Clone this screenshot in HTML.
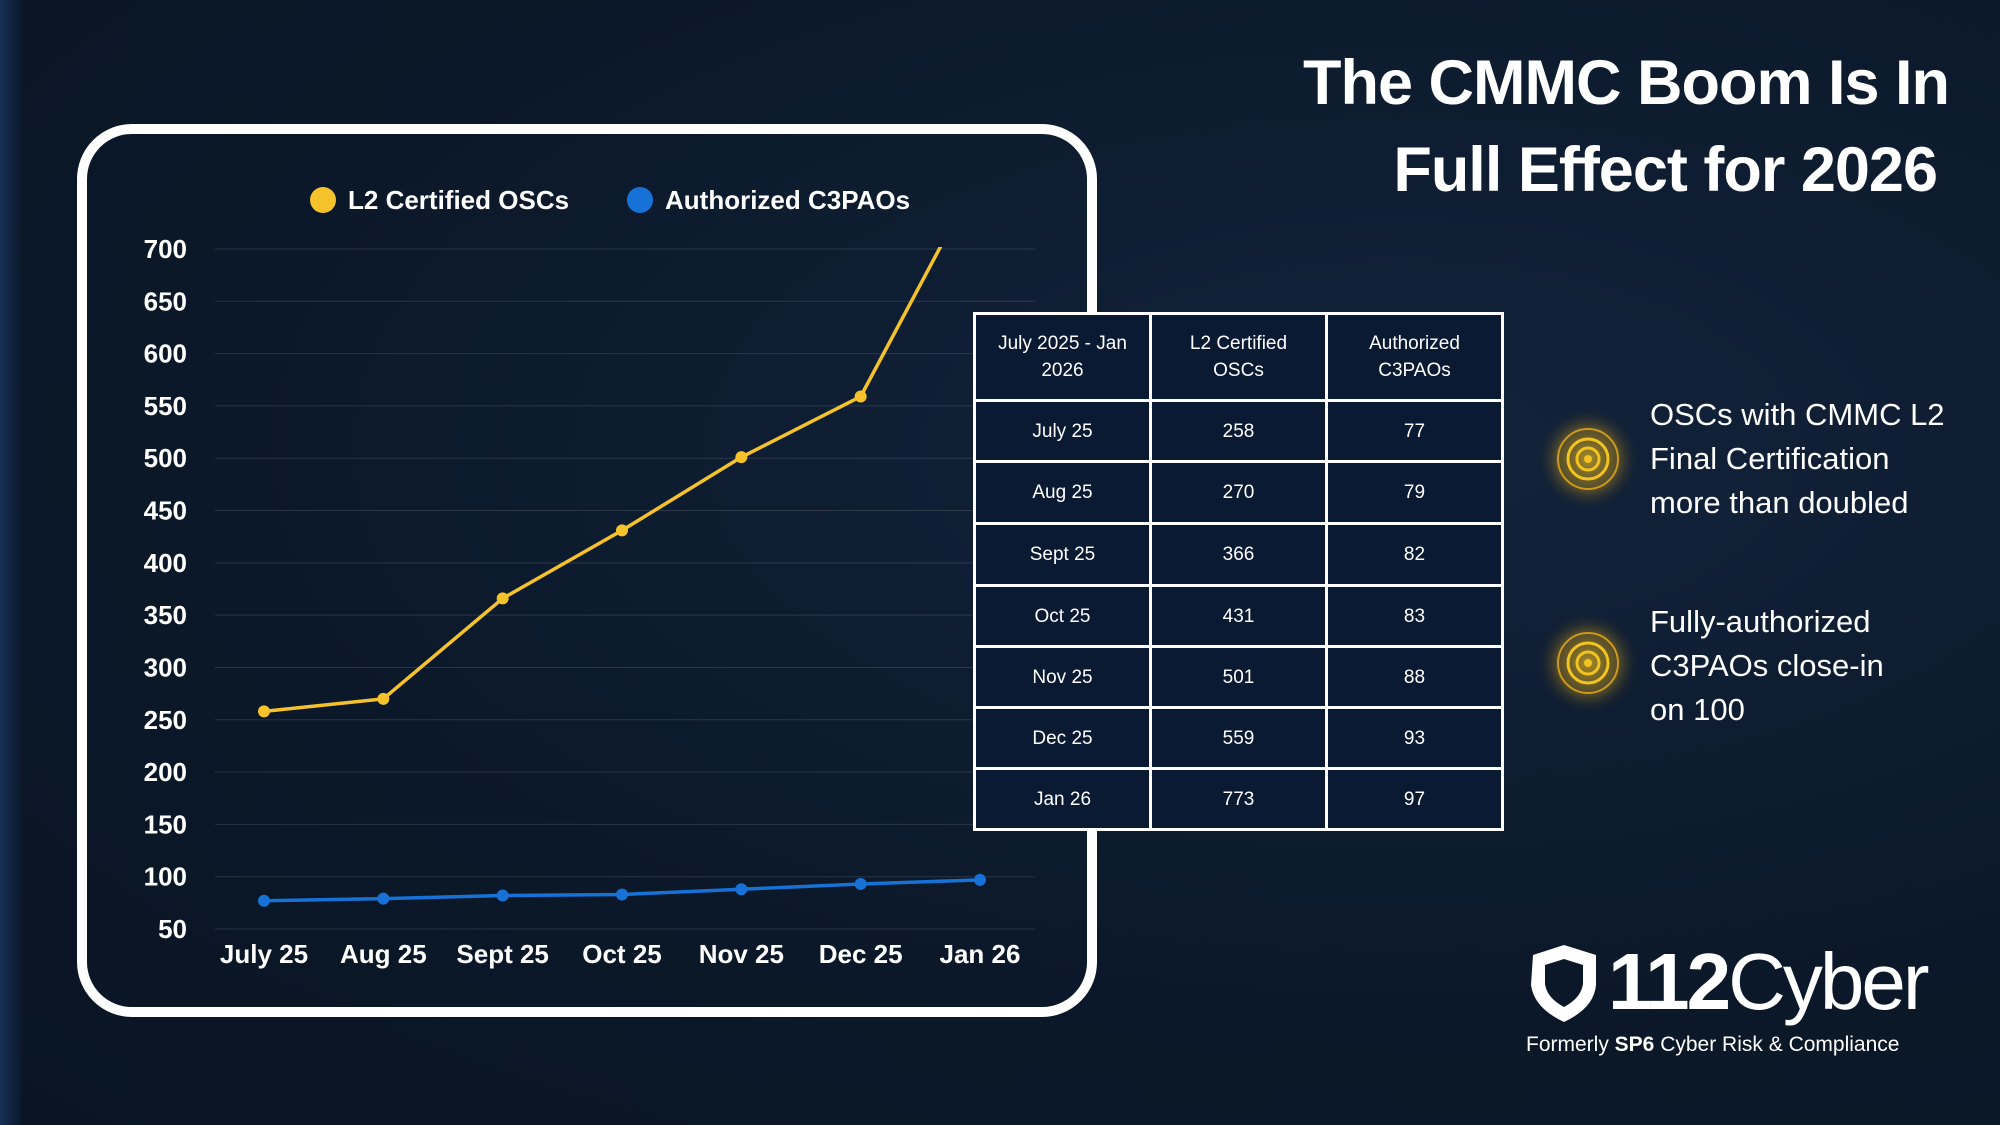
<!DOCTYPE html>
<html><head><meta charset="utf-8"><style>
html,body{margin:0;padding:0;}
body{width:2000px;height:1125px;overflow:hidden;background:#0b1829;font-family:"Liberation Sans",sans-serif;color:#fff;position:relative;}
.bg{position:absolute;inset:0;background:radial-gradient(ellipse at 70% 40%,#12233b 0%,#0b1829 60%,#091524 100%);}
.stripe{position:absolute;left:0;top:0;width:22px;height:1125px;background:linear-gradient(90deg,#163157,#0b1829);}
.title{position:absolute;right:51px;top:40px;text-align:right;font-weight:bold;font-size:63px;line-height:87px;letter-spacing:-1px;}
table{position:absolute;left:973px;top:312px;border-collapse:collapse;background:#0a1a33;}
td{border:3px solid #fff;width:173px;text-align:center;font-size:19px;color:#fff;padding:0;line-height:27px;}
.bul{position:absolute;left:1650px;font-size:31px;line-height:44px;color:#fff;}
.logo{position:absolute;left:1608px;top:936px;font-size:80px;font-weight:bold;letter-spacing:-3px;}
.logo span{font-weight:normal;}
.former{position:absolute;left:1526px;top:1033px;font-size:21px;}
</style></head><body>
<div class="bg"></div>
<div class="stripe"></div>
<div class="title">The CMMC Boom Is In<br><span style="margin-right:12px">Full Effect for 2026</span></div>

<svg id="chart" width="2000" height="1125" style="position:absolute;left:0;top:0">
<rect x="82" y="129" width="1010" height="883" rx="50" fill="none" stroke="#fff" stroke-width="10"/>
<defs><clipPath id="clip"><rect x="180" y="247" width="880" height="720"/></clipPath></defs>
<g id="grid"></g><g id="ylab"></g><g id="xlab"></g><g id="lines" clip-path="url(#clip)"></g><g id="legend"></g>
</svg>

<table>
<tr style="height:87px"><td>July 2025 - Jan<br>2026</td><td>L2 Certified<br>OSCs</td><td>Authorized<br>C3PAOs</td></tr>
<tr style="height:61px"><td>July 25</td><td>258</td><td>77</td></tr>
<tr style="height:62px"><td>Aug 25</td><td>270</td><td>79</td></tr>
<tr style="height:62px"><td>Sept 25</td><td>366</td><td>82</td></tr>
<tr style="height:61px"><td>Oct 25</td><td>431</td><td>83</td></tr>
<tr style="height:61px"><td>Nov 25</td><td>501</td><td>88</td></tr>
<tr style="height:61px"><td>Dec 25</td><td>559</td><td>93</td></tr>
<tr style="height:61px"><td>Jan 26</td><td>773</td><td>97</td></tr>
</table>

<svg width="2000" height="1125" style="position:absolute;left:0;top:0">
<defs><radialGradient id="glow"><stop offset="0" stop-color="#e8b920" stop-opacity="0.7"/><stop offset="0.6" stop-color="#b58a1a" stop-opacity="0.4"/><stop offset="1" stop-color="#0b1829" stop-opacity="0"/></radialGradient></defs>
<g><circle cx="1588" cy="459" r="52" fill="url(#glow)"/><circle cx="1588" cy="459" r="30" fill="none" stroke="#c99a1e" stroke-width="2"/><circle cx="1588" cy="459" r="20" fill="none" stroke="#f2c420" stroke-width="3"/><circle cx="1588" cy="459" r="11" fill="none" stroke="#f2c420" stroke-width="3"/><circle cx="1588" cy="459" r="4" fill="#f2c420"/></g>
<g><circle cx="1588" cy="663" r="52" fill="url(#glow)"/><circle cx="1588" cy="663" r="30" fill="none" stroke="#c99a1e" stroke-width="2"/><circle cx="1588" cy="663" r="20" fill="none" stroke="#f2c420" stroke-width="3"/><circle cx="1588" cy="663" r="11" fill="none" stroke="#f2c420" stroke-width="3"/><circle cx="1588" cy="663" r="4" fill="#f2c420"/></g>
<path d="M1533 955 L1564 945 L1596 955 L1596 985 Q1594 1008 1564 1022 Q1534 1008 1531 985 Z" fill="#fff"/>
<path d="M1545 965 L1564 959 L1583 965 L1583 984 Q1581 998 1564 1007 Q1547 998 1545 984 Z" fill="#0b1829"/>
</svg>
<div class="bul" style="top:393px">OSCs with CMMC L2<br>Final Certification<br>more than doubled</div>
<div class="bul" style="top:600px">Fully-authorized<br>C3PAOs close-in<br>on 100</div>
<div class="logo">112<span>Cyber</span></div>
<div class="former">Formerly <b>SP6</b> Cyber Risk &amp; Compliance</div>

<script>
const categories=["July 25","Aug 25","Sept 25","Oct 25","Nov 25","Dec 25","Jan 26"];
const oscValues=[258,270,366,431,501,559,773];
const c3paoValues=[77,79,82,83,88,93,97];
const yTicks=[50,100,150,200,250,300,350,400,450,500,550,600,650,700];
const NS="http://www.w3.org/2000/svg";
function y(v){return 929-(v-50)*(680/650);}
function x(i){return 264+i*(716/(categories.length-1));}
function mk(tag,attrs,parent){const e=document.createElementNS(NS,tag);for(const k in attrs)e.setAttribute(k,attrs[k]);parent.appendChild(e);return e;}
const grid=document.getElementById('grid'),yl=document.getElementById('ylab'),xl=document.getElementById('xlab'),ln=document.getElementById('lines'),lg=document.getElementById('legend');
yTicks.forEach(t=>{
 const g=mk('line',{x1:215,x2:1035,y1:y(t),y2:y(t),stroke:'#ffffff','stroke-opacity':0.12,'stroke-width':1},grid);
 
 
 const tx=mk('text',{x:187,y:y(t)+9,'text-anchor':'end',fill:'#fff','font-size':26,'font-weight':'bold','font-family':'Liberation Sans'},yl);
 tx.textContent=t;
 
 
});
categories.forEach((c,i)=>{
 const tx=mk('text',{x:x(i),y:963,'text-anchor':'middle',fill:'#fff','font-size':26,'font-weight':'bold','font-family':'Liberation Sans'},xl);
 tx.textContent=c;
 
 
});
function series(vals,color,name){
 const p=mk('polyline',{points:vals.map((v,i)=>x(i)+','+y(v)).join(' '),fill:'none',stroke:color,'stroke-width':3.5},ln);
 
 
 vals.forEach((v,i)=>{
  const c=mk('circle',{cx:x(i),cy:y(v),r:6,fill:color},ln);
  
  
 });
}
series(oscValues,'#f5c22b','osc');
series(c3paoValues,'#1672d6','c3pao');
[[323,'#f5c22b','L2 Certified OSCs','legend-osc'],[640,'#1672d6','Authorized C3PAOs','legend-c3pao']].forEach(l=>{
 const c=mk('circle',{cx:l[0],cy:200,r:13,fill:l[1]},lg);
 
 
 const t=mk('text',{x:l[0]+25,y:209,fill:'#fff','font-size':26,'font-weight':'bold','font-family':'Liberation Sans'},lg);
 t.textContent=l[2];
 
 
});
</script>
</body></html>
